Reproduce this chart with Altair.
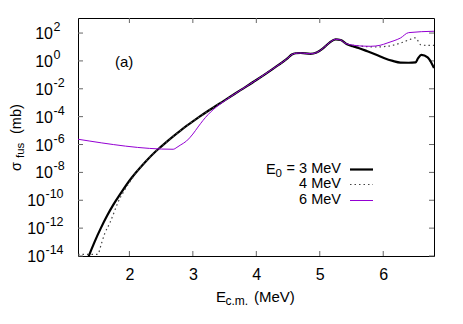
import altair as alt
import pandas as pd

# ---------------- data ----------------
E_3 = [1.33, 1.36, 1.45, 1.55, 1.65, 1.75, 1.85, 2.0, 2.1, 2.25, 2.4, 2.5, 2.6, 2.7, 2.8,
       2.9, 3.0, 3.1, 3.25, 3.5, 3.75, 4.0, 4.25, 4.5, 4.56, 4.62, 4.7, 4.85, 4.95, 5.05,
       5.15, 5.25, 5.33, 5.43, 5.52, 5.61, 5.75, 5.9, 6.01, 6.15, 6.27, 6.4, 6.51, 6.55,
       6.6, 6.7, 6.8]
LOG_3 = [-14.35, -14.0, -13.0, -12.0, -11.1, -10.3, -9.6, -8.6, -8.03, -7.25, -6.55, -6.15,
         -5.76, -5.38, -5.02, -4.67, -4.34, -4.02, -3.56, -2.83, -2.1, -1.37, -0.6, 0.22,
         0.46, 0.55, 0.57, 0.51, 0.6, 0.9, 1.3, 1.55, 1.5, 1.2, 1.05, 0.93, 0.69, 0.42,
         0.21, 0.0, -0.12, -0.13, -0.10, 0.2, 0.44, 0.26, -0.51]

E_4 = [1.19, 1.5, 1.56, 1.61, 1.69, 1.76, 1.82, 1.9, 1.98, 2.05, 2.1, 2.25, 2.4, 2.5, 2.6,
       2.7, 2.8, 2.9, 3.0, 3.1, 3.25, 3.5, 3.75, 4.0, 4.25, 4.5, 4.56, 4.62, 4.7, 4.85,
       4.95, 5.05, 5.15, 5.25, 5.33, 5.4, 5.54, 5.7, 5.85, 6.06, 6.27, 6.4, 6.51, 6.59,
       6.67, 6.8]
LOG_4 = [-13.88, -13.88, -13.1, -12.4, -11.65, -10.85, -10.15, -9.45, -8.85, -8.4, -8.05,
         -7.25, -6.55, -6.15, -5.76, -5.38, -5.02, -4.67, -4.34, -4.02, -3.56, -2.83,
         -2.1, -1.37, -0.6, 0.22, 0.46, 0.55, 0.57, 0.51, 0.6, 0.9, 1.3, 1.55, 1.5, 1.27,
         1.12, 1.04, 1.0, 1.05, 1.28, 1.5, 1.66, 1.16, 1.12, 1.12]

E_6 = [1.19, 2.69, 2.75, 2.8, 2.9, 3.0, 3.08, 3.16, 3.24, 3.32, 3.43, 3.5, 3.6, 3.75, 4.0,
       4.25, 4.5, 4.56, 4.62, 4.7, 4.85, 4.95, 5.05, 5.15, 5.25, 5.33, 5.4, 5.54, 5.7,
       5.8, 5.95, 6.06, 6.17, 6.27, 6.4, 6.8]
LOG_6 = [-5.62, -6.34, -6.2, -6.05, -5.75, -5.25, -4.75, -4.27, -3.85, -3.5, -3.1, -2.87,
         -2.55, -2.1, -1.37, -0.6, 0.22, 0.46, 0.55, 0.57, 0.51, 0.6, 0.9, 1.3, 1.55, 1.5,
         1.27, 1.12, 1.06, 1.05, 1.12, 1.28, 1.45, 1.64, 2.03, 2.13]

X_TICKS = [2, 3, 4, 5, 6]
Y_EXPONENTS = [2, 0, -2, -4, -6, -8, -10, -12, -14]
LEGEND_LABELS = ["= 3 MeV", "4 MeV", "6 MeV"]
PANEL_LABEL = "(a)"

# ---------------- layout ----------------
W, H = 356, 238
FONT = "Liberation Sans"
TICK_C = "#666666"
C3, C4, C6 = "black", "#444444", "#9400D3"

xs = alt.Scale(domain=[1.19, 6.8], nice=False, zero=False)
ys = alt.Scale(type="log", domain=[1e-14, 10 ** 3.08], nice=False)
xaxis = alt.Axis(values=X_TICKS, title=None, labelFontSize=16, labelFont=FONT,
                 labelColor="black", domain=False, ticks=False, tickSize=0, grid=False,
                 labelPadding=10, format="d")


def frame(E, L):
    return pd.DataFrame({"E": E, "sigma": [10 ** v for v in L]})


def line(df, **kw):
    return alt.Chart(df).mark_line(clip=True, interpolate="monotone", **kw).encode(
        x=alt.X("E:Q", scale=xs, axis=xaxis),
        y=alt.Y("sigma:Q", scale=ys, axis=None),
    )


l3 = line(frame(E_3, LOG_3), color=C3, strokeWidth=2.2)
l4 = line(frame(E_4, LOG_4), color=C4, strokeWidth=1.2, strokeDash=[1.5, 3])
l6 = line(frame(E_6, LOG_6), color=C6, strokeWidth=1)

# inward ticks on all four sides
xt = pd.DataFrame({"t": X_TICKS})
yt = pd.DataFrame({"v": [10.0 ** e for e in Y_EXPONENTS]})
tick_b = alt.Chart(xt).mark_rule(color=TICK_C).encode(
    x=alt.X("t:Q", scale=xs, axis=xaxis), y=alt.value(H), y2=alt.value(H - 5))
tick_t = alt.Chart(xt).mark_rule(color=TICK_C).encode(
    x=alt.X("t:Q", scale=xs, axis=xaxis), y=alt.value(0), y2=alt.value(5))
tick_l = alt.Chart(yt).mark_rule(color=TICK_C).encode(
    y=alt.Y("v:Q", scale=ys, axis=None), x=alt.value(0), x2=alt.value(5))
tick_r = alt.Chart(yt).mark_rule(color=TICK_C).encode(
    y=alt.Y("v:Q", scale=ys, axis=None), x=alt.value(W), x2=alt.value(W - 5))

# y tick labels 10^n
ylab = pd.DataFrame({"v": [10.0 ** e for e in Y_EXPONENTS],
                     "exp": [str(e) for e in Y_EXPONENTS],
                     "wide": [abs(e) >= 10 for e in Y_EXPONENTS]})


def ylabels(wide, xpos):
    base = alt.Chart(ylab).transform_filter(
        "datum.wide" if wide else "!datum.wide")
    ten = base.mark_text(align="right", baseline="middle", fontSize=16, font=FONT,
                         color="black", dy=1).encode(
        y=alt.Y("v:Q", scale=ys, axis=None), x=alt.value(xpos), text=alt.value("10"))
    ex = base.mark_text(align="left", baseline="middle", fontSize=12.5, font=FONT,
                        color="black", dy=-6).encode(
        y=alt.Y("v:Q", scale=ys, axis=None), x=alt.value(xpos + 0.5), text="exp:N")
    return [ten, ex]


one = pd.DataFrame({"k": [0]})


def txt(s, x, y, size=15, align="left", baseline="alphabetic", angle=0):
    kw = dict(align=align, baseline=baseline, fontSize=size, font=FONT, color="black")
    if angle:
        kw["angle"] = angle
    return alt.Chart(one).mark_text(**kw).encode(
        x=alt.value(x), y=alt.value(y), text=alt.value(s))


# axis titles (with subscripts)
titles = [
    txt("E", 138, 283.5, 15),
    txt("c.m.", 147.5, 286.5, 12),
    txt("(MeV)", 176, 283.5, 15),
    txt("σ", -57, 153, 14.5, angle=270),
    txt("fus", -54.5, 140, 11.5, angle=270),
    txt("(mb)", -57, 116, 14.5, angle=270),
    txt(PANEL_LABEL, 37, 44, 15, baseline="middle"),
]

# legend (manual, gnuplot style: text right-aligned, sample to the right)
leg_rows_text = [150.5, 165.5, 182]
leg_rows_line = [151.5, 166.5, 182.5]
legend = [txt(lab, 263, yy, 14.5, align="right", baseline="middle")
          for lab, yy in zip(LEGEND_LABELS, leg_rows_text)]
legend += [txt("E", 188, 156, 14.5), txt("0", 197.5, 159, 11.5)]


def leg_line(yy, **kw):
    return alt.Chart(one).mark_rule(**kw).encode(
        x=alt.value(272), x2=alt.value(295), y=alt.value(yy))


legend += [leg_line(leg_rows_line[0], color=C3, strokeWidth=2.2),
           leg_line(leg_rows_line[1], color=C4, strokeWidth=1.2, strokeDash=[1.5, 3]),
           leg_line(leg_rows_line[2], color=C6, strokeWidth=1)]

chart = alt.layer(
    tick_b, tick_t, tick_l, tick_r,
    l3, l4, l6,
    *ylabels(False, -25), *ylabels(True, -33),
    *titles, *legend,
).properties(
    width=W, height=H,
    padding={"left": 70, "top": 10, "right": 21, "bottom": 52},
    autosize=alt.AutoSizeParams(type="none"),
).configure_view(stroke="black", strokeWidth=1)

chart.save("out.html", embed_options={"renderer": "svg", "actions": False})
